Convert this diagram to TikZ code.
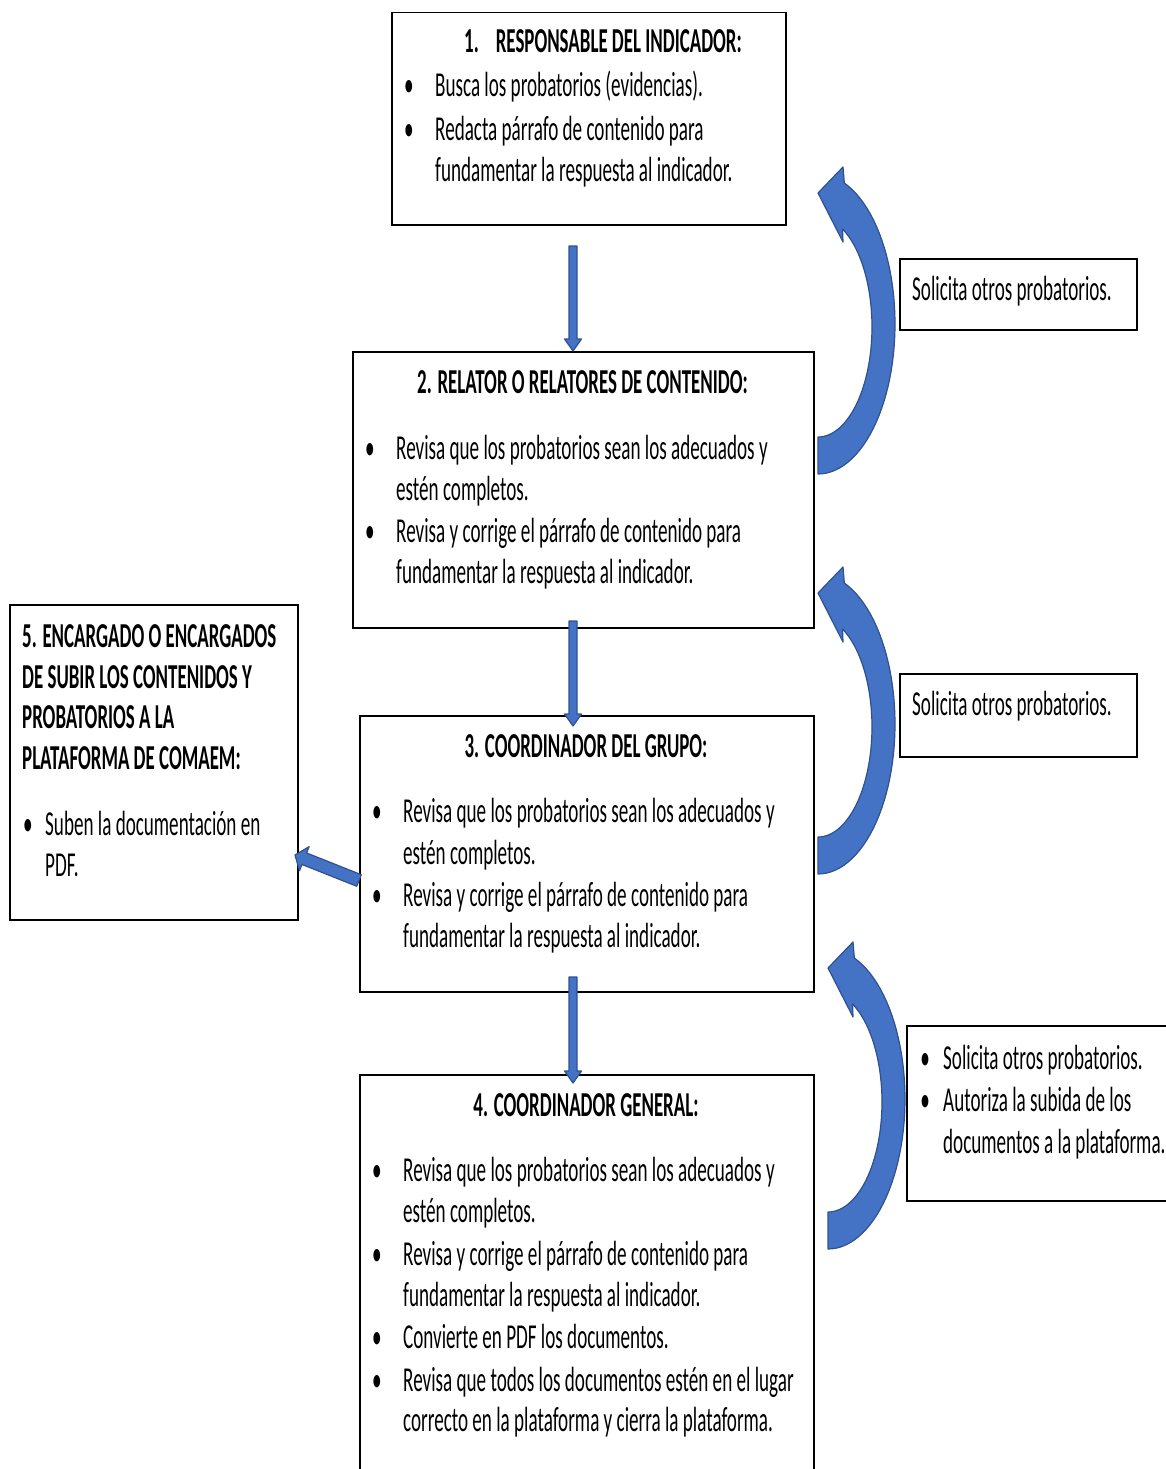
\documentclass[tikz,border=0pt]{standalone}
\usepackage{fontspec}
\setmainfont{Carlito}[FakeStretch=0.546, BoldFeatures={FakeStretch=0.54}]
\usetikzlibrary{calc}
\definecolor{arrblue}{HTML}{4472C4}
\definecolor{arredge}{HTML}{2F528F}
\tikzset{
  box/.style={draw=black, line width=1.5pt, anchor=north west, inner sep=0pt},
  txt/.style={anchor=base west, inner sep=0pt, font=\fontsize{35}{42}\selectfont},
  ttl/.style={anchor=base, inner sep=0pt, font=\fontsize{35}{42}\selectfont\bfseries},
  btxt/.style={anchor=base west, inner sep=0pt, font=\fontsize{35}{42}\selectfont\bfseries},
  bul/.style={anchor=base, inner sep=0pt, font=\fontsize{35}{42}\selectfont},
  blk/.style={fill=arrblue, draw=arredge, line width=1.2pt, line join=round},
}
% straight block arrow: #1 start, #2 tip, #3 half shaft, #4 half head, #5 head length
\newcommand\blkarrow[5]{%
  \coordinate (bkH) at ($(#2)!#5!(#1)$);
  \filldraw[blk] ($(#1)!#3!90:(#2)$) -- ($(bkH)!#3!90:(#2)$) -- ($(bkH)!#4!90:(#2)$) -- (#2)
     -- ($(bkH)!#4!-90:(#2)$) -- ($(bkH)!#3!-90:(#2)$) -- ($(#1)!#3!-90:(#2)$) -- cycle;}
% curved block arrow shifted by (#1,#2)
\newcommand\curvarrow[2]{%
  \begin{scope}[shift={(#1,#2)}]
    \filldraw[blk] (818,193) -- (843,242)
      -- plot[domain=63:-90, samples=50] ({818+54*cos(\x)},{327-110*sin(\x)})
      -- (818,474)
      -- plot[domain=-90:70, samples=50] ({818+77*cos(\x)},{324-150*sin(\x)})
      -- (843,167) -- cycle;
  \end{scope}}
\begin{document}
\begin{tikzpicture}[x=1pt,y=-1pt]
\useasboundingbox (0,0) rectangle (1165,1469);
% boxes
\node[box, minimum width=394pt, minimum height=212pt] (b1) at (391,12) {};
\node[box, minimum width=461pt, minimum height=276pt] (b2) at (352,351) {};
\node[box, minimum width=454pt, minimum height=276pt] (b3) at (359,715) {};
\node[box, minimum width=454pt, minimum height=410pt] (b4) at (359,1074) {};
\node[box, minimum width=288pt, minimum height=315pt] (b5) at (9,604) {};
\node[box, minimum width=237pt, minimum height=71pt] (s1) at (899,258) {};
\node[box, minimum width=237pt, minimum height=83pt] (s2) at (899,673) {};
\node[box, minimum width=270pt, minimum height=175pt] (s3) at (906,1025) {};
% box 1
\node[ttl] (t1) at (603,53) {1.\hspace{17pt}RESPONSABLE DEL INDICADOR:};
\node[bul] (u11) at (409,97) {•};
\node[bul] (u12) at (409,140) {•};
\node[txt] (l11) at (435,97) {Busca los probatorios (evidencias).};
\node[txt] (l12) at (435,140) {Redacta párrafo de contenido para};
\node[txt] (l13) at (435,181) {fundamentar la respuesta al indicador.};
% box 2
\node[ttl] (t2) at (582.5,393) {2. RELATOR O RELATORES DE CONTENIDO:};
\node[bul] (u21) at (370,459) {•};
\node[bul] (u22) at (370,542) {•};
\node[txt] (l21) at (396,459) {Revisa que los probatorios sean los adecuados y};
\node[txt] (l22) at (396,500) {estén completos.};
\node[txt] (l23) at (396,542) {Revisa y corrige el párrafo de contenido para};
\node[txt] (l24) at (396,583) {fundamentar la respuesta al indicador.};
% box 3
\node[ttl] (t3) at (586,757) {3. COORDINADOR DEL GRUPO:};
\node[bul] (u31) at (377,822) {•};
\node[bul] (u32) at (377,906) {•};
\node[txt] (l31) at (403,822) {Revisa que los probatorios sean los adecuados y};
\node[txt] (l32) at (403,864) {estén completos.};
\node[txt] (l33) at (403,906) {Revisa y corrige el párrafo de contenido para};
\node[txt] (l34) at (403,947) {fundamentar la respuesta al indicador.};
% box 4
\node[ttl] (t4) at (586,1116) {4. COORDINADOR GENERAL:};
\node[bul] (u41) at (377,1181) {•};
\node[bul] (u42) at (377,1265) {•};
\node[bul] (u43) at (377,1348) {•};
\node[bul] (u44) at (377,1391) {•};
\node[txt] (l41) at (403,1181) {Revisa que los probatorios sean los adecuados y};
\node[txt] (l42) at (403,1222) {estén completos.};
\node[txt] (l43) at (403,1265) {Revisa y corrige el párrafo de contenido para};
\node[txt] (l44) at (403,1306) {fundamentar la respuesta al indicador.};
\node[txt] (l45) at (403,1348) {Convierte en PDF los documentos.};
\node[txt] (l46) at (403,1391) {Revisa que todos los documentos estén en el lugar};
\node[txt] (l47) at (403,1431) {correcto en la plataforma y cierra la plataforma.};
% box 5
\node[btxt] (t51) at (22,647) {5. ENCARGADO O ENCARGADOS};
\node[btxt] (t52) at (22,688) {DE SUBIR LOS CONTENIDOS Y};
\node[btxt] (t53) at (22,728) {PROBATORIOS A LA};
\node[btxt] (t54) at (22,769) {PLATAFORMA DE COMAEM:};
\node[bul] (u51) at (28,835) {•};
\node[txt] (l51) at (45,835) {Suben la documentación en};
\node[txt] (l52) at (45,876) {PDF.};
% side boxes
\node[txt] (ls1) at (912,300) {Solicita otros probatorios.};
\node[txt] (ls2) at (912,715) {Solicita otros probatorios.};
\node[bul] (us31) at (925,1069) {•};
\node[bul] (us32) at (925,1111) {•};
\node[txt] (ls31) at (943,1069) {Solicita otros probatorios.};
\node[txt] (ls32) at (943,1111) {Autoriza la subida de los};
\node[txt] (ls33) at (943,1153) {documentos a la plataforma.};
% straight arrows
\coordinate (d1s) at (573,246);  \coordinate (d1e) at (573,351);
\coordinate (d2s) at (573,621);  \coordinate (d2e) at (573,726);
\coordinate (d3s) at (573,977);  \coordinate (d3e) at (573,1083);
\coordinate (ls) at (359,880.5); \coordinate (le) at (295,855);
\blkarrow{d1s}{d1e}{4pt}{8.5pt}{12pt}
\blkarrow{d2s}{d2e}{4pt}{8.5pt}{12pt}
\blkarrow{d3s}{d3e}{4pt}{8.5pt}{12pt}
\blkarrow{ls}{le}{6.2pt}{13pt}{10pt}
% curved arrows
\curvarrow{0}{0}
\curvarrow{0}{400}
\curvarrow{10}{775}
\end{tikzpicture}
\end{document}
